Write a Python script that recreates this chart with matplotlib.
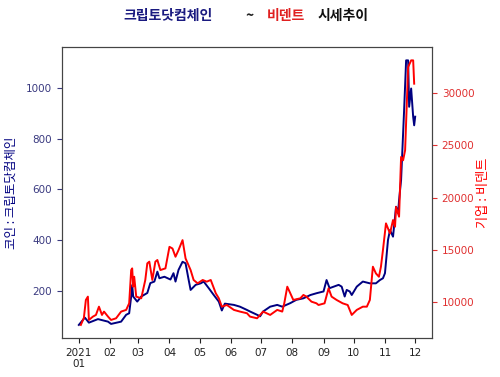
import matplotlib
matplotlib.use("Agg")
import matplotlib.pyplot as plt
import matplotlib.dates as mdates
import pandas as pd

plt.rcParams['font.family'] = ['DejaVu Sans', 'Noto Sans CJK KR']

# 크립토닷컴체인 (left axis)
coin_dates = ["2021-01-01", "2021-01-07", "2021-01-11", "2021-01-20", "2021-01-30", "2021-02-02",
              "2021-02-12", "2021-02-17", "2021-02-20", "2021-02-22", "2021-02-23", "2021-02-24",
              "2021-02-28", "2021-03-04", "2021-03-10", "2021-03-13", "2021-03-17", "2021-03-20",
              "2021-03-22", "2021-03-27", "2021-04-02", "2021-04-05", "2021-04-07", "2021-04-10",
              "2021-04-14", "2021-04-17", "2021-04-20", "2021-04-22", "2021-04-27", "2021-05-02",
              "2021-05-05", "2021-05-10", "2021-05-15", "2021-05-20", "2021-05-23", "2021-05-26",
              "2021-06-04", "2021-06-10", "2021-06-17", "2021-06-20", "2021-06-27", "2021-06-30",
              "2021-07-03", "2021-07-10", "2021-07-17", "2021-07-22", "2021-07-30", "2021-08-05",
              "2021-08-12", "2021-08-19", "2021-08-25", "2021-09-01", "2021-09-04", "2021-09-07",
              "2021-09-16", "2021-09-19", "2021-09-22", "2021-09-24", "2021-09-27", "2021-09-29",
              "2021-10-04", "2021-10-10", "2021-10-17", "2021-10-23", "2021-10-27", "2021-10-30",
              "2021-11-01", "2021-11-04", "2021-11-06", "2021-11-09", "2021-11-12", "2021-11-14",
              "2021-11-15", "2021-11-17", "2021-11-20", "2021-11-22", "2021-11-24", "2021-11-25",
              "2021-11-27", "2021-11-29", "2021-11-30", "2021-12-01"]
coin_price = [66, 95, 75, 89, 79, 70,
              79, 106, 112, 178, 223, 178,
              158, 178, 192, 231, 237, 276,
              250, 256, 245, 270, 237, 283,
              315, 309, 245, 204, 224, 230,
              237, 211, 184, 158, 123, 150,
              145, 138, 125, 119, 106, 100,
              119, 138, 145, 138, 152, 165,
              171, 184, 191, 198, 243, 211,
              224, 217, 178, 204, 198, 184,
              217, 237, 230, 230, 243, 250,
              270, 401, 440, 414, 532, 506,
              558, 637, 912, 1109, 1109, 926,
              998, 886, 853, 887]

# 비덴트 (right axis)
vid_dates = ["2021-01-03", "2021-01-06", "2021-01-08", "2021-01-10", "2021-01-11", "2021-01-15",
             "2021-01-18", "2021-01-21", "2021-01-24", "2021-01-26", "2021-01-30", "2021-02-02",
             "2021-02-07", "2021-02-12", "2021-02-17", "2021-02-20", "2021-02-22", "2021-02-23",
             "2021-02-24", "2021-02-25", "2021-02-27", "2021-03-04", "2021-03-08", "2021-03-10",
             "2021-03-12", "2021-03-15", "2021-03-18", "2021-03-20", "2021-03-23", "2021-03-28",
             "2021-04-01", "2021-04-04", "2021-04-07", "2021-04-10", "2021-04-14", "2021-04-17",
             "2021-04-22", "2021-04-25", "2021-04-29", "2021-05-04", "2021-05-08", "2021-05-12",
             "2021-05-17", "2021-05-20", "2021-05-23", "2021-05-28", "2021-06-04", "2021-06-10",
             "2021-06-17", "2021-06-20", "2021-06-27", "2021-07-03", "2021-07-10", "2021-07-17",
             "2021-07-22", "2021-07-24", "2021-07-27", "2021-07-30", "2021-08-02", "2021-08-09",
             "2021-08-12", "2021-08-15", "2021-08-20", "2021-08-25", "2021-08-27", "2021-09-02",
             "2021-09-06", "2021-09-09", "2021-09-14", "2021-09-20", "2021-09-25", "2021-09-29",
             "2021-10-04", "2021-10-10", "2021-10-14", "2021-10-17", "2021-10-20", "2021-10-23",
             "2021-10-26", "2021-10-28", "2021-10-30", "2021-11-02", "2021-11-06", "2021-11-09",
             "2021-11-11", "2021-11-12", "2021-11-15", "2021-11-17", "2021-11-19", "2021-11-21",
             "2021-11-24", "2021-11-27", "2021-11-29", "2021-11-30"]
vid_price = [7834, 8500, 10220, 10540, 8310, 8630,
             8790, 9580, 8790, 9110, 8630, 8310,
             8470, 9110, 9270, 9900, 13080, 13240,
             11490, 12440, 10540, 10380, 12130, 13720,
             13880, 12130, 13880, 14040, 13080, 13240,
             15300, 15140, 14350, 14990, 15940, 14190,
             13080, 12130, 11810, 12130, 11970, 12130,
             10860, 10380, 9580, 9740, 9270, 9110,
             8950, 8630, 8470, 9110, 8790, 9270,
             9110, 9900, 11490, 10860, 10220, 10380,
             10700, 10540, 10060, 9900, 9740, 9900,
             11330, 10540, 10220, 9900, 9740, 8790,
             9270, 9580, 9580, 10220, 13400, 12760,
             12440, 13400, 14990, 17540, 16580, 17860,
             17220, 19120, 18180, 23890, 23570, 24530,
             32480, 33120, 33120, 30890]

coin_x = pd.to_datetime(coin_dates)
vid_x = pd.to_datetime(vid_dates)

fig = plt.figure(figsize=(5, 3.77), dpi=100)
ax = fig.add_axes([0.124, 0.103, 0.74, 0.772])
ax2 = ax.twinx()

ax.plot(coin_x, coin_price, color='navy', lw=1.4)
ax2.plot(vid_x, vid_price, color='red', lw=1.4)


def month_fmt(x, pos=None):
    d = mdates.num2date(x)
    if d.month == 1:
        return f"{d.year}\n01"
    return f"{d.month:02d}"


ax.xaxis.set_major_locator(mdates.MonthLocator())
ax.xaxis.set_major_formatter(plt.FuncFormatter(month_fmt))
ax.tick_params(axis='x', labelsize=7.5, colors='#222222')
ax.tick_params(axis='y', labelsize=7.5, colors='#3a3a80')
ax2.tick_params(axis='y', labelsize=7.5, colors='#e03030')
for a in (ax, ax2):
    for s in a.spines.values():
        s.set_color('#444444')

ax.set_ylabel("코인 : 크립토닷컴체인", color='navy', fontsize=9,
              family=['Noto Sans CJK KR', 'DejaVu Sans'])
ax.yaxis.set_label_coords(-0.12, 0.5)
ax2.set_ylabel("기업 : 비덴트", color='red', fontsize=9.5,
               family=['Noto Sans CJK KR', 'DejaVu Sans'])
ax2.yaxis.set_label_coords(1.122, 0.5)

title_font = ['Noto Sans CJK KR', 'DejaVu Sans']
fig.text(0.336, 0.958, "크립토닷컴체인", color='#1a1a80', fontsize=10, fontweight='bold',
         ha='center', va='center', family=title_font)
fig.text(0.500, 0.958, "~", color='#222222', fontsize=10, fontweight='bold',
         ha='center', va='center', family=title_font)
fig.text(0.572, 0.958, "비덴트", color='#e02020', fontsize=10, fontweight='bold',
         ha='center', va='center', family=title_font)
fig.text(0.686, 0.958, "시세추이", color='#111111', fontsize=10, fontweight='bold',
         ha='center', va='center', family=title_font)

fig.savefig("out.png", dpi=100)
